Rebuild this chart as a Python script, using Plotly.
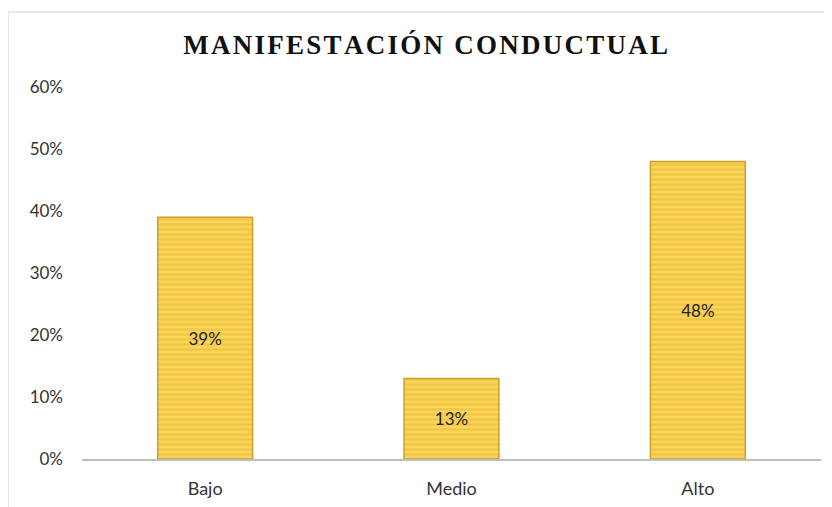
import plotly.graph_objects as go

categories = ["Bajo", "Medio", "Alto"]
values = [0.39, 0.13, 0.48]
labels = ["39%", "13%", "48%"]
tick_vals = [0, 0.1, 0.2, 0.3, 0.4, 0.5, 0.6]
tick_text = ["0%", "10%", "20%", "30%", "40%", "50%", "60%"]
title_text = "MANIFESTACIÓN CONDUCTUAL"

spaced_title = "\u200a".join(list(title_text))

fig = go.Figure()
fig.add_trace(go.Bar(
    x=categories, y=values, text=labels,
    textposition="inside", insidetextanchor="middle",
    textfont=dict(family="Lato, Open Sans, sans-serif", size=17, color="#222222"),
    marker=dict(
        color="#F5CD4E",
        line=dict(color="#CDA02A", width=1.5),
        pattern=dict(shape="-", fgcolor="#EBB526", bgcolor="#F9D55C", size=5, solidity=0.45),
    ),
    width=0.385,
    hoverinfo="skip",
))

fig.update_layout(
    width=832, height=507,
    margin=dict(l=74, r=19, t=79, b=56),
    paper_bgcolor="white", plot_bgcolor="white",
    showlegend=False,
    title=dict(text="<b>" + spaced_title + "</b>", x=0.502, xanchor="center", y=0.927, yanchor="middle",
               font=dict(family="Liberation Serif, Times New Roman, serif", size=27, color="#111111")),
    xaxis=dict(showline=True, linecolor="#BFBFBF", linewidth=2, ticks="", showgrid=False,
               ticklabelstandoff=12,
               tickfont=dict(family="Lato, Open Sans, sans-serif", size=18, color="#333333")),
    yaxis=dict(range=[0, 0.6], tickvals=tick_vals, ticktext=tick_text, showgrid=False,
               zeroline=False, showline=False, ticks="", ticklabelstandoff=18,
               tickfont=dict(family="Lato, Open Sans, sans-serif", size=17, color="#333333")),
    shapes=[
        dict(type="line", xref="paper", yref="paper", x0=-0.1, x1=1.03, y0=1.2016, y1=1.2016,
             line=dict(color="#E0E0E0", width=1.5)),
        dict(type="line", xref="paper", yref="paper", x0=-0.1, x1=-0.1, y0=1.2016, y1=-0.15,
             line=dict(color="#E0E0E0", width=1.5)),
    ],
)

fig.write_html("out.html")
